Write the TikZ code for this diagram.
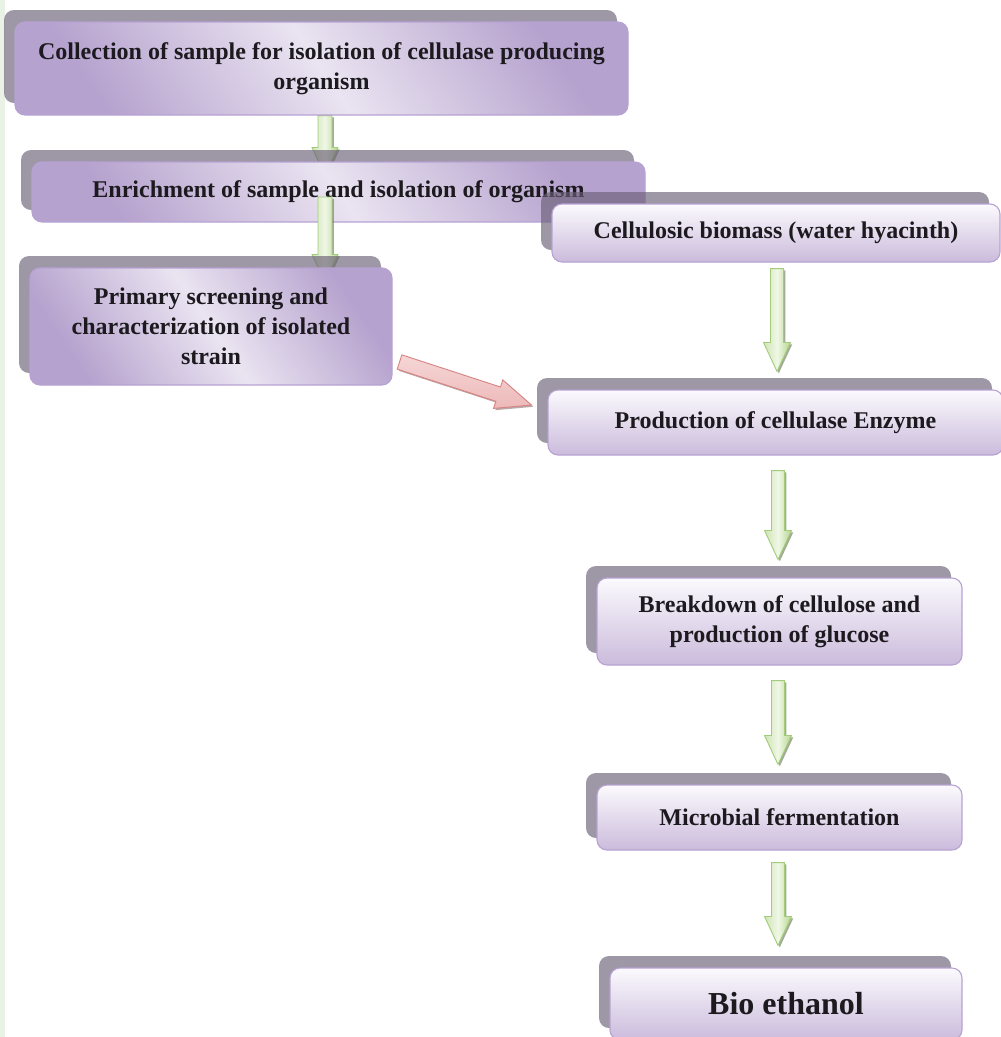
\documentclass[tikz,border=0pt]{standalone}
\usepackage{fontspec}
\setmainfont{Liberation Serif}
\usepackage{xcolor}
\definecolor{inkdark}{HTML}{1C1A1E}
\definecolor{lilacdeep}{HTML}{B6A2CE}
\definecolor{lilaclight}{HTML}{EAE4F1}
\definecolor{lilactop}{HTML}{FBFAFD}
\definecolor{lilacbottom}{HTML}{CBBBDC}
\definecolor{boxedge}{HTML}{B7A2D3}
\definecolor{backgray}{HTML}{6A5F76}
\definecolor{greenlight}{HTML}{EFF7E6}
\definecolor{greenmid}{HTML}{CFE5B4}
\definecolor{greendeep}{HTML}{B7D68F}
\definecolor{greenedge}{HTML}{A2CB7A}
\definecolor{redlight}{HTML}{F6D6D6}
\definecolor{reddeep}{HTML}{EDB9B9}
\definecolor{rededge}{HTML}{D68382}
\definecolor{stripgreen}{HTML}{EAF2E5}
\usepackage{tikz}
\usetikzlibrary{calc,shadows}
\pgfdeclarelayer{under}
\pgfdeclarelayer{over}
\pgfsetlayers{under,main,over}
% block arrow: style, shaft half width, head half width, head length, from, to
\newcommand{\blockarrow}[6]{%
  \path[#1] let \p1=($(#6)-(#5)$), \n1={atan2(\y1,\x1)}, \n2={veclen(\x1,\y1)-#4} in
    ($(#5)+(\n1+90:#2)$) -- ($(#5)+(\n1:\n2)+(\n1+90:#2)$)
    -- ($(#5)+(\n1:\n2)+(\n1+90:#3)$) -- (#6)
    -- ($(#5)+(\n1:\n2)+(\n1-90:#3)$) -- ($(#5)+(\n1:\n2)+(\n1-90:#2)$)
    -- ($(#5)+(\n1-90:#2)$) -- cycle;}

\begin{document}
\begin{tikzpicture}[x=1pt, y=1pt,
  stage/.style={rounded corners=10pt, draw=boxedge, line width=1.1pt, align=center,
    inner sep=0pt, text=inkdark, font=\fontsize{24}{30}\selectfont\bfseries,
    general shadow={fill=backgray, fill opacity=0.65, draw=none,
      shadow xshift=-11pt, shadow yshift=12pt}},
  leftstage/.style={stage, left color=lilacdeep, right color=lilacdeep,
    middle color=lilaclight, shading angle=124},
  rightstage/.style={stage, top color=lilactop, bottom color=lilacbottom},
  garrow/.style={draw=greenedge, line width=0.9pt, left color=greenmid,
    right color=greendeep, middle color=greenlight,
    drop shadow={shadow xshift=1.8pt, shadow yshift=-1.8pt, fill=black!45!greendeep, opacity=0.6}},
  rarrow/.style={draw=rededge, line width=0.9pt, top color=redlight, bottom color=reddeep,
    drop shadow={shadow xshift=1.8pt, shadow yshift=-1.8pt, fill=black!40!reddeep, opacity=0.6}}]
  \useasboundingbox (0,0) rectangle (1001,-1037);
  % Margin strip
  \fill[stripgreen] (0,0) rectangle (5,-1037);
  % Isolation of the organism
  \node[leftstage, minimum width=613pt, minimum height=93pt]
    (coll) at (321.5,-68.5) {Collection of sample for isolation of cellulase producing\\organism};
  \node[leftstage, minimum width=613pt, minimum height=60pt]
    (enr) at (338.5,-192) {Enrichment of sample and isolation of organism};
  \begin{pgfonlayer}{over}
    \node[leftstage, minimum width=362pt, minimum height=117pt]
      (prim) at (211,-326.5) {Primary screening and\\characterization of isolated\\strain};
  \end{pgfonlayer}
  % Ethanol line
  \node[rightstage, minimum width=448pt, minimum height=58pt]
    (cell) at (776,-233) {Cellulosic biomass (water hyacinth)};
  \node[rightstage, minimum width=455pt, minimum height=65pt]
    (prod) at (775.5,-422.5) {Production of cellulase Enzyme};
  \node[rightstage, minimum width=365pt, minimum height=87pt]
    (brk) at (779.5,-621.5) {Breakdown of cellulose and\\production of glucose};
  \node[rightstage, minimum width=365pt, minimum height=65pt]
    (micro) at (779.5,-817.5) {Microbial fermentation};
  \node[rightstage, minimum width=352pt, minimum height=72pt,
    font=\fontsize{32}{38}\selectfont\bfseries]
    (bio) at (786,-1004) {Bio ethanol};
  % Arrow ends
  \coordinate (a1s) at ($(coll.south)+(3.5,0)$);
  \coordinate (a1e) at ($(enr.north)+(-13.5,-14)$);
  \coordinate (a2s) at ($(enr.center)+(-13.5,-5)$);
  \coordinate (a2e) at ($(a2s |- prim.north)+(0,-15)$);
  \coordinate (a3s) at ($(cell.south)+(1,-6)$);
  \coordinate (a3e) at ($(a3s |- prod.north)+(0,18)$);
  \coordinate (a4s) at ($(prod.south)+(2.5,-15)$);
  \coordinate (a4e) at ($(a4s |- brk.north)+(0,18)$);
  \coordinate (a5s) at ($(brk.south)+(-1.5,-15)$);
  \coordinate (a5e) at ($(a5s |- micro.north)+(0,20)$);
  \coordinate (a6s) at ($(micro.south)+(-1.5,-12)$);
  \coordinate (a6e) at ($(a6s |- bio.north)+(0,22)$);
  \coordinate (rs) at ($(prim.east)+(7,-35.5)$);
  \coordinate (re) at ($(prod.west)+(-16,17.5)$);
  % Arrows
  \begin{pgfonlayer}{under}
    \blockarrow{garrow}{7}{13}{28}{a1s}{a1e}
  \end{pgfonlayer}
  \blockarrow{garrow}{7}{13}{28}{a2s}{a2e}
  \foreach \s/\e in {a3s/a3e, a4s/a4e, a5s/a5e, a6s/a6e} {
    \blockarrow{garrow}{6.5}{13.5}{29}{\s}{\e}
  }
  \blockarrow{rarrow}{7.5}{15}{35}{rs}{re}
\end{tikzpicture}
\end{document}
